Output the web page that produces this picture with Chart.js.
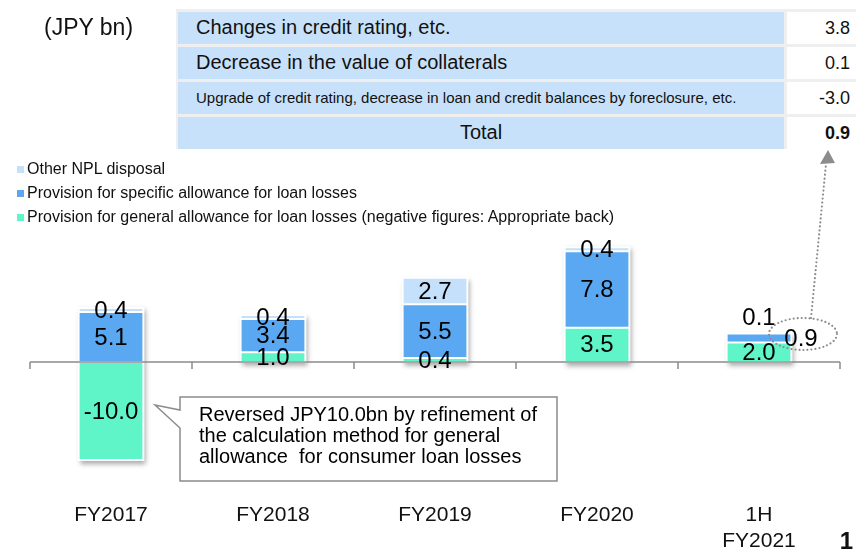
<!DOCTYPE html>
<html>
<head>
<meta charset="utf-8">
<script src="https://cdn.jsdelivr.net/npm/chart.js@4.4.1/dist/chart.umd.min.js"></script>
<style>
    body { margin: 0; background: #fff; font-family: "Liberation Sans", Arial, sans-serif; color: #111; }
    #wrap { position: relative; width: 856px; height: 549px; overflow: hidden; }
    #wrap canvas { position: absolute; left: 0; top: 0; }
    .unit { position: absolute; left: 44px; top: 13px; font-size: 23px; line-height: 28px; }
    #breakdown {
        position: absolute; left: 176px; top: 9px; width: 680px; box-sizing: border-box;
        padding: 3px 0 0 2px; background: #efefef;
        display: grid; grid-template-columns: 606px 69px; grid-auto-rows: 32px; gap: 3px;
    }
    #breakdown .name { background: #c8e1fa; padding-left: 18px; font-size: 20px; line-height: 31px; white-space: nowrap; }
    #breakdown .name.small { font-size: 15px; }
    #breakdown .name.total { text-align: center; padding-left: 0; }
    #breakdown .val { background: #fff; text-align: right; padding-right: 6px; font-size: 18px; line-height: 32px; }
    #breakdown .val.total { font-weight: bold; }
    #legend { position: absolute; left: 17px; top: 157px; font-size: 16px; line-height: 24px; }
    #legend .item { display: flex; align-items: center; white-space: nowrap; }
    #legend .box { width: 7px; height: 7px; margin-right: 3px; }
    .page { position: absolute; right: 3px; top: 527px; font-size: 24px; font-weight: bold; line-height: 28px; }
</style>
</head>
<body>
<div id="wrap">
    <canvas id="npl"></canvas>
    <div class="unit">(JPY bn)</div>
    <div id="breakdown"></div>
    <div id="legend"></div>
    <div class="page">1</div>
</div>
<script>
// categories and series (JPY bn)
const categories = ['FY2017', 'FY2018', 'FY2019', 'FY2020', ['1H', 'FY2021']];
const generalAllowance = [-10.0, 1.0, 0.4, 3.5, 2.0];
const specificAllowance = [5.1, 3.4, 5.5, 7.8, 0.9];
const otherDisposal = [0.4, 0.4, 2.7, 0.4, 0.1];

// breakdown of 1H FY2021 specific allowance
const breakdownNames = [
    'Changes in credit rating, etc.',
    'Decrease in the value of collaterals',
    'Upgrade of credit rating, decrease in loan and credit balances by foreclosure, etc.',
    'Total'
];
const breakdownValues = ['3.8', '0.1', '-3.0', '0.9'];

const calloutLines = [
    'Reversed JPY10.0bn by refinement of',
    'the calculation method for general',
    'allowance  for consumer loan losses'
];

const FONT = '"Liberation Sans", Arial, sans-serif';
const GRAY = '#8c8c8c';

// table
const table = document.getElementById('breakdown');
breakdownNames.forEach((name, i) => {
    const last = i === breakdownNames.length - 1;
    const n = document.createElement('div');
    n.className = 'name' + (name.length > 60 ? ' small' : '') + (last ? ' total' : '');
    n.textContent = name;
    const v = document.createElement('div');
    v.className = 'val' + (last ? ' total' : '');
    v.textContent = breakdownValues[i];
    table.appendChild(n);
    table.appendChild(v);
});

const barShadow = {
    id: 'barShadow',
    beforeDatasetsDraw(chart) {
        const ctx = chart.ctx;
        const metas = chart.getSortedVisibleDatasetMetas();
        ctx.save();
        ctx.shadowColor = 'rgba(0,0,0,0.35)';
        ctx.shadowBlur = 5;
        ctx.shadowOffsetX = 2;
        ctx.shadowOffsetY = 3;
        ctx.fillStyle = '#fff';
        categories.forEach((c, i) => {
            let top = Infinity, bottom = -Infinity, left = 0, width = 0;
            metas.forEach(m => {
                const el = m.data[i];
                top = Math.min(top, el.y, el.base);
                bottom = Math.max(bottom, el.y, el.base);
                left = el.x - el.width / 2;
                width = el.width;
            });
            ctx.fillRect(left - 1, top - 1, width + 2, bottom - top + 2);
        });
        ctx.restore();
    }
};

const axisAndLabels = {
    id: 'axisAndLabels',
    afterDatasetsDraw(chart) {
        const { ctx, chartArea, scales: { x, y } } = chart;
        const y0 = y.getPixelForValue(0);
        const step = x.getPixelForValue(1) - x.getPixelForValue(0);
        const start = x.getPixelForValue(0) - step / 2;

        ctx.save();
        ctx.strokeStyle = GRAY;
        ctx.lineWidth = 1.5;
        ctx.beginPath();
        ctx.moveTo(chartArea.left, y0);
        ctx.lineTo(chartArea.right, y0);
        for (let k = 0; k <= categories.length; k++) {
            ctx.moveTo(start + k * step, y0);
            ctx.lineTo(start + k * step, y0 + 7);
        }
        ctx.stroke();

        ctx.font = '24px ' + FONT;
        ctx.fillStyle = '#000';
        ctx.textAlign = 'center';
        ctx.textBaseline = 'middle';
        const last = categories.length - 1;
        let mark = null;
        chart.data.datasets.forEach((ds, di) => {
            chart.getDatasetMeta(di).data.forEach((el, i) => {
                let lx = el.x;
                let ly = (el.y + el.base) / 2;
                if (i === last && ds.key === 'other') ly = el.y - 15;
                if (i === last && ds.key === 'specific') {
                    lx = el.x + 42;
                    mark = { x: lx + 2, y: ly - 4 };
                }
                ctx.fillText(ds.data[i].toFixed(1), lx, ly + 1);
            });
        });

        // dotted ellipse and arrow up to the breakdown total
        if (mark) {
            ctx.strokeStyle = GRAY;
            ctx.fillStyle = GRAY;
            ctx.lineWidth = 2.2;
            ctx.lineCap = 'round';
            ctx.setLineDash([0, 4]);
            ctx.beginPath();
            ctx.ellipse(mark.x, mark.y, 34, 16, 0, 0, Math.PI * 2);
            ctx.stroke();
            ctx.beginPath();
            ctx.moveTo(mark.x + 8, mark.y - 16);
            ctx.lineTo(826, 164);
            ctx.stroke();
            ctx.setLineDash([]);
            ctx.beginPath();
            ctx.moveTo(828, 150);
            ctx.lineTo(820, 164);
            ctx.lineTo(835, 163);
            ctx.closePath();
            ctx.fill();
        }
        ctx.restore();
    },
    afterDraw(chart) {
        // callout for the FY2017 reversal
        const ctx = chart.ctx;
        ctx.save();
        ctx.beginPath();
        ctx.moveTo(180, 397);
        ctx.lineTo(557, 397);
        ctx.lineTo(557, 481);
        ctx.lineTo(180, 481);
        ctx.lineTo(180, 428);
        ctx.lineTo(155, 405);
        ctx.lineTo(180, 410);
        ctx.closePath();
        ctx.fillStyle = '#fff';
        ctx.fill();
        ctx.strokeStyle = GRAY;
        ctx.lineWidth = 1.5;
        ctx.stroke();
        ctx.fillStyle = '#000';
        ctx.font = '20px ' + FONT;
        ctx.textBaseline = 'alphabetic';
        calloutLines.forEach((t, i) => ctx.fillText(t, 199, 421 + i * 21));
        ctx.restore();
    }
};

const barStyle = {
    barPercentage: 0.4,
    categoryPercentage: 1,
    borderWidth: 1,
    borderColor: '#fff',
    borderSkipped: false
};

const chart = new Chart(document.getElementById('npl'), {
    type: 'bar',
    data: {
        labels: categories,
        datasets: [
            { key: 'general', label: 'Provision for general allowance for loan losses (negative figures: Appropriate back)',
              data: generalAllowance, backgroundColor: '#60f5c8', ...barStyle },
            { key: 'specific', label: 'Provision for specific allowance for loan losses',
              data: specificAllowance, backgroundColor: '#5aa8f2', ...barStyle },
            { key: 'other', label: 'Other NPL disposal',
              data: otherDisposal, backgroundColor: '#c5e0fa', ...barStyle }
        ]
    },
    options: {
        responsive: true,
        maintainAspectRatio: false,
        animation: false,
        layout: { padding: { top: 244.4, left: 30, right: 16, bottom: 0 } },
        plugins: { legend: { display: false }, tooltip: { enabled: false } },
        scales: {
            x: {
                stacked: true,
                grid: { display: false, drawTicks: false },
                border: { display: false },
                ticks: { color: '#111', padding: 43, font: { family: FONT, size: 21, lineHeight: 1.2 } },
                afterFit(scale) { scale.height = 89; }
            },
            y: { stacked: true, display: false, min: -10, max: 12 }
        }
    },
    plugins: [barShadow, axisAndLabels]
});

// legend, top item is the top of the stack
const legend = document.getElementById('legend');
chart.data.datasets.slice().reverse().forEach(ds => {
    const row = document.createElement('div');
    row.className = 'item';
    row.innerHTML = '<span class="box" style="background:' + ds.backgroundColor + '"></span><span></span>';
    row.lastChild.textContent = ds.label;
    legend.appendChild(row);
});
</script>
</body>
</html>
